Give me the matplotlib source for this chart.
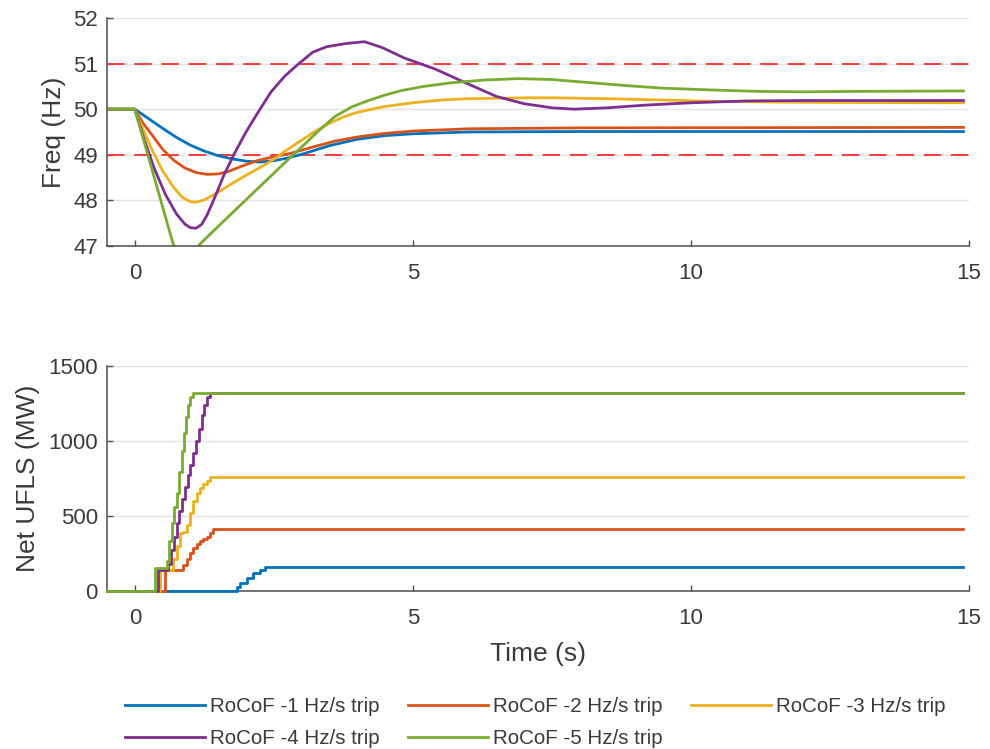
import matplotlib
matplotlib.use("Agg")
import matplotlib.pyplot as plt

plt.rcParams['font.family'] = ['Liberation Sans', 'DejaVu Sans']

labels = ["RoCoF -1 Hz/s trip", "RoCoF -2 Hz/s trip", "RoCoF -3 Hz/s trip",
          "RoCoF -4 Hz/s trip", "RoCoF -5 Hz/s trip"]
colors = ["#0072BD", "#D95319", "#EDB120", "#7E2F8E", "#77AC30"]

# frequency traces (s, Hz)
f1_t = [-0.5, 0, 0.25, 0.5, 0.75, 1.0, 1.25, 1.5, 1.75, 2.0, 2.25, 2.5, 2.75, 3.0, 3.5, 4.0, 4.5, 5.0, 6.0, 8.0, 10.0, 14.9]
f1 = [50, 50, 49.79, 49.58, 49.38, 49.21, 49.08, 48.98, 48.91, 48.86, 48.84, 48.87, 48.93, 49.01, 49.2, 49.34, 49.42, 49.46, 49.5, 49.51, 49.51, 49.51]

f2_t = [-0.5, 0, 0.15, 0.3, 0.5, 0.7, 0.9, 1.1, 1.3, 1.5, 1.7, 1.9, 2.2, 2.5, 2.8, 3.2, 3.6, 4.0, 4.5, 5.0, 6.0, 8.0, 14.9]
f2 = [50, 50, 49.69, 49.45, 49.12, 48.88, 48.71, 48.61, 48.57, 48.58, 48.64, 48.74, 48.87, 48.96, 49.03, 49.17, 49.3, 49.39, 49.47, 49.52, 49.57, 49.59, 49.6]

f3_t = [-0.5, 0, 0.15, 0.3, 0.5, 0.7, 0.85, 1.0, 1.1, 1.25, 1.5, 1.75, 2.0, 2.25, 2.5, 2.75, 3.0, 3.25, 3.5, 3.75, 4.0, 4.5, 5.0, 5.5, 6.0, 7.0, 7.5, 8.5, 9.5, 10.5, 12.0, 14.9]
f3 = [50, 50, 49.55, 49.13, 48.65, 48.28, 48.07, 47.97, 47.96, 48.01, 48.18, 48.37, 48.55, 48.72, 48.9, 49.12, 49.32, 49.52, 49.69, 49.83, 49.93, 50.06, 50.14, 50.2, 50.23, 50.25, 50.25, 50.23, 50.2, 50.17, 50.15, 50.14]

f4_t = [-0.5, 0, 0.15, 0.35, 0.55, 0.75, 0.9, 1.0, 1.1, 1.2, 1.3, 1.45, 1.6, 1.8, 2.0, 2.2, 2.45, 2.7, 2.95, 3.2, 3.45, 3.8, 4.13, 4.45, 4.85, 5.4, 6.0, 6.5, 7.0, 7.5, 7.9, 8.5, 9.2, 10.0, 11.0, 12.0, 14.9]
f4 = [50, 50, 49.4, 48.7, 48.13, 47.7, 47.48, 47.4, 47.39, 47.47, 47.68, 48.1, 48.55, 49.05, 49.5, 49.9, 50.38, 50.73, 51.0, 51.25, 51.37, 51.44, 51.48, 51.35, 51.12, 50.88, 50.55, 50.28, 50.12, 50.03, 50.0, 50.03, 50.09, 50.14, 50.18, 50.19, 50.19]

f5_t = [-0.5, 0, 0.35, 0.69, 0.85, 1.0, 1.17, 1.5, 1.8, 2.1, 2.4, 2.7, 3.0, 3.3, 3.6, 3.9, 4.2, 4.5, 4.8, 5.2, 5.7, 6.3, 6.9, 7.5, 8.2, 8.8, 9.5, 10.4, 11.2, 12.0, 13.0, 14.9]
f5 = [50, 50, 48.5, 47.04, 46.7, 46.75, 47.04, 47.43, 47.78, 48.13, 48.48, 48.83, 49.17, 49.52, 49.84, 50.05, 50.19, 50.31, 50.41, 50.5, 50.58, 50.64, 50.67, 50.65, 50.58, 50.52, 50.46, 50.42, 50.39, 50.38, 50.39, 50.4]

# net UFLS (s, MW), stepwise
u1_t = [-0.5, 1.83, 1.89, 2.01, 2.13, 2.25, 2.34, 14.9]
u1 = [0, 25, 51, 84, 118, 140, 160, 160]

u2_t = [-0.5, 0.54, 0.87, 0.93, 0.99, 1.05, 1.11, 1.17, 1.23, 1.29, 1.35, 1.41, 14.9]
u2 = [0, 140, 175, 210, 250, 285, 310, 330, 345, 360, 385, 410, 410]

u3_t = [-0.5, 0.45, 0.69, 0.75, 0.81, 0.87, 0.93, 0.99, 1.05, 1.11, 1.17, 1.23, 1.29, 1.35, 14.9]
u3 = [0, 140, 210, 300, 384, 396, 440, 520, 600, 651, 684, 710, 730, 760, 760]

u4_t = [-0.5, 0.42, 0.6, 0.65, 0.7, 0.75, 0.8, 0.85, 0.9, 0.95, 1.0, 1.05, 1.1, 1.15, 1.2, 1.25, 1.3, 1.35, 14.9]
u4 = [0, 140, 180, 270, 360, 450, 530, 610, 690, 770, 840, 920, 1000, 1080, 1170, 1240, 1290, 1320, 1320]

u5_t = [-0.5, 0.36, 0.57, 0.62, 0.66, 0.7, 0.75, 0.8, 0.84, 0.88, 0.92, 0.96, 1.0, 1.04, 14.9]
u5 = [0, 150, 200, 330, 450, 560, 650, 790, 930, 1050, 1160, 1240, 1290, 1320, 1320]

freq_t = [f1_t, f2_t, f3_t, f4_t, f5_t]
freq = [f1, f2, f3, f4, f5]
ufls_t = [u1_t, u2_t, u3_t, u4_t, u5_t]
ufls = [u1, u2, u3, u4, u5]

fig = plt.figure(figsize=(9.9, 7.49), dpi=100)
ax1 = fig.add_axes([0.1081, 0.6716, 0.8707, 0.3044])
ax2 = fig.add_axes([0.1081, 0.2110, 0.8707, 0.3004])

axcol = "#4d4d4d"
txtcol = "#3a3a3a"
for ax in (ax1, ax2):
    for s in ("top", "right"):
        ax.spines[s].set_visible(False)
    for s in ("left", "bottom"):
        ax.spines[s].set_color(axcol)
        ax.spines[s].set_linewidth(1.1)
    ax.tick_params(direction="in", length=4, width=1, colors=axcol,
                   labelsize=16, labelcolor=txtcol)
    ax.tick_params(axis="x", pad=12.5)
    ax.tick_params(axis="y", pad=6.5)
    ax.grid(axis="y", color="#e3e3e3", linewidth=1.0)
    ax.set_axisbelow(True)
    ax.set_xlim(-0.5, 15)
    ax.set_xticks([0, 5, 10, 15])

for t, f, c in zip(freq_t, freq, colors):
    ax1.plot(t, f, color=c, lw=2.0)
ax1.axhline(51, color="#ff3b3b", lw=1.4, dashes=(9, 5), zorder=1.5)
ax1.axhline(49, color="#ff3b3b", lw=1.4, dashes=(9, 5), zorder=1.5)
ax1.set_ylim(47, 52)
ax1.set_yticks([47, 48, 49, 50, 51, 52])
ax1.set_ylabel("Freq (Hz)", fontsize=19, color=txtcol, labelpad=5)

handles = []
for t, u, c, lab in zip(ufls_t, ufls, colors, labels):
    h, = ax2.plot(t, u, color=c, lw=2.0, drawstyle="steps-post",
                  clip_on=False, zorder=3, label=lab)
    handles.append(h)
ax2.set_ylim(0, 1500)
ax2.set_yticks([0, 500, 1000, 1500])
ax2.set_ylabel("Net UFLS (MW)", fontsize=19, color=txtcol, labelpad=6)
ax2.set_xlabel("Time (s)", fontsize=19, color=txtcol, labelpad=9)

# legend filled row by row like the original
order = [0, 3, 1, 4, 2]
fig.legend(handles=[handles[i] for i in order], labels=[labels[i] for i in order],
           ncol=3, frameon=False, loc="upper left", bbox_to_anchor=(0.1263, 0.0697),
           fontsize=14.8, handlelength=3.9, handletextpad=0.25,
           columnspacing=1.36, labelspacing=0.66, borderpad=0, borderaxespad=0,
           labelcolor=txtcol)

fig.savefig("out.png", dpi=100)
